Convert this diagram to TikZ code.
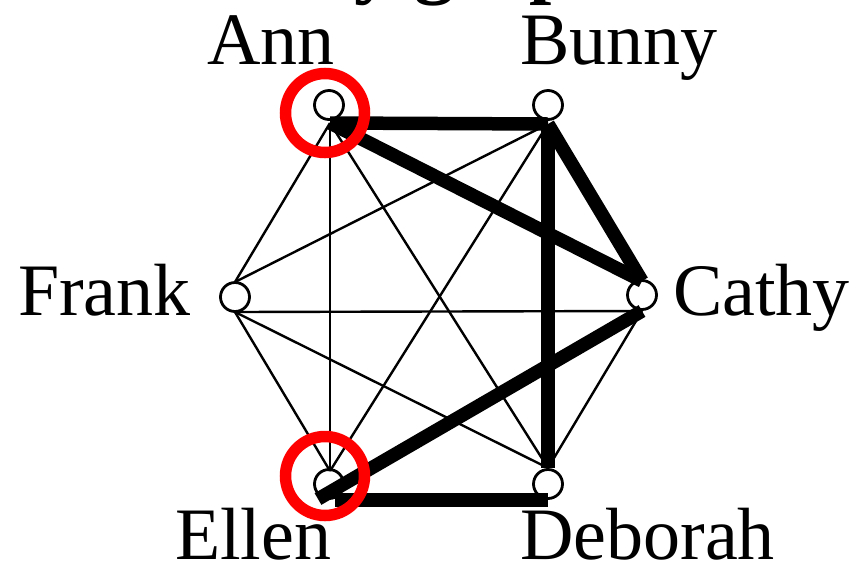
\documentclass[tikz,border=0pt]{standalone}
\usepackage{fontspec}
\setmainfont{Liberation Serif}
\begin{document}
\begin{tikzpicture}[x=1pt,y=-1pt,
  vert/.style={circle,draw=black,line width=2.8pt,fill=white,minimum size=29pt,inner sep=0pt},
  thinedge/.style={line width=2.4pt},
  thickedge/.style={line width=13.5pt},
  ring/.style={circle,draw=red,line width=11.5pt,minimum size=79pt,inner sep=0pt},
  lbl/.style={font=\fontsize{74}{74}\selectfont,inner sep=0pt,text depth=0pt,anchor=base west}]
\useasboundingbox (0,0) rectangle (854,566);
% partially visible title
\node[font=\bfseries\fontsize{80}{80}\selectfont,inner sep=0pt,anchor=base west] (title) at (203,-12) {Party graph};
% vertices
\node[vert] (A) at (329,105) {};
\node[vert] (B) at (548,105) {};
\node[vert] (C) at (642,295) {};
\node[vert] (D) at (548,484) {};
\node[vert] (E) at (329,484) {};
\node[vert] (F) at (235,297) {};
% edge ports
\coordinate (As) at (330,123);
\coordinate (Bs) at (548,124);
\coordinate (Cn) at (642,281);
\coordinate (Cs) at (642,311);
\coordinate (Dn) at (548,468);
\coordinate (Ds) at (548,500);
\coordinate (En) at (330,471);
\coordinate (Es) at (318,499);
\coordinate (Eb) at (335,500);
\coordinate (Fn) at (235,282);
\coordinate (Fs) at (235,312);
% thin edges
\draw[thinedge] (As) -- (En);
\draw[thinedge] (As) -- (Fn);
\draw[thinedge] (As) -- (Dn);
\draw[thinedge] (Bs) -- (Fn);
\draw[thinedge] (Bs) -- (En);
\draw[thinedge] (Fs) -- (Cs);
\draw[thinedge] (Fs) -- (Dn);
\draw[thinedge] (Fs) -- (En);
\draw[thinedge] (Cs) -- (Dn);
% thick edges
\draw[thickedge] (As) -- (Bs);
\draw[thickedge] (As) -- (Cn);
\draw[thickedge] (Bs) -- (Cn);
\draw[thickedge] (Bs) -- (Dn);
\draw[thickedge] (Cs) -- (Es);
\draw[thickedge] (Eb) -- (Ds);
% red rings
\node[ring] (rA) at (325,113) {};
\node[ring] (rE) at (325,476) {};
% labels
\node[lbl] (lA) at (207,64) {Ann};
\node[lbl] (lB) at (520,64) {Bunny};
\node[lbl] (lC) at (673,315) {Cathy};
\node[lbl] (lD) at (520,559) {Deborah};
\node[lbl] (lE) at (175,559) {Ellen};
\node[lbl] (lF) at (18,315) {Frank};
\end{tikzpicture}
\end{document}
